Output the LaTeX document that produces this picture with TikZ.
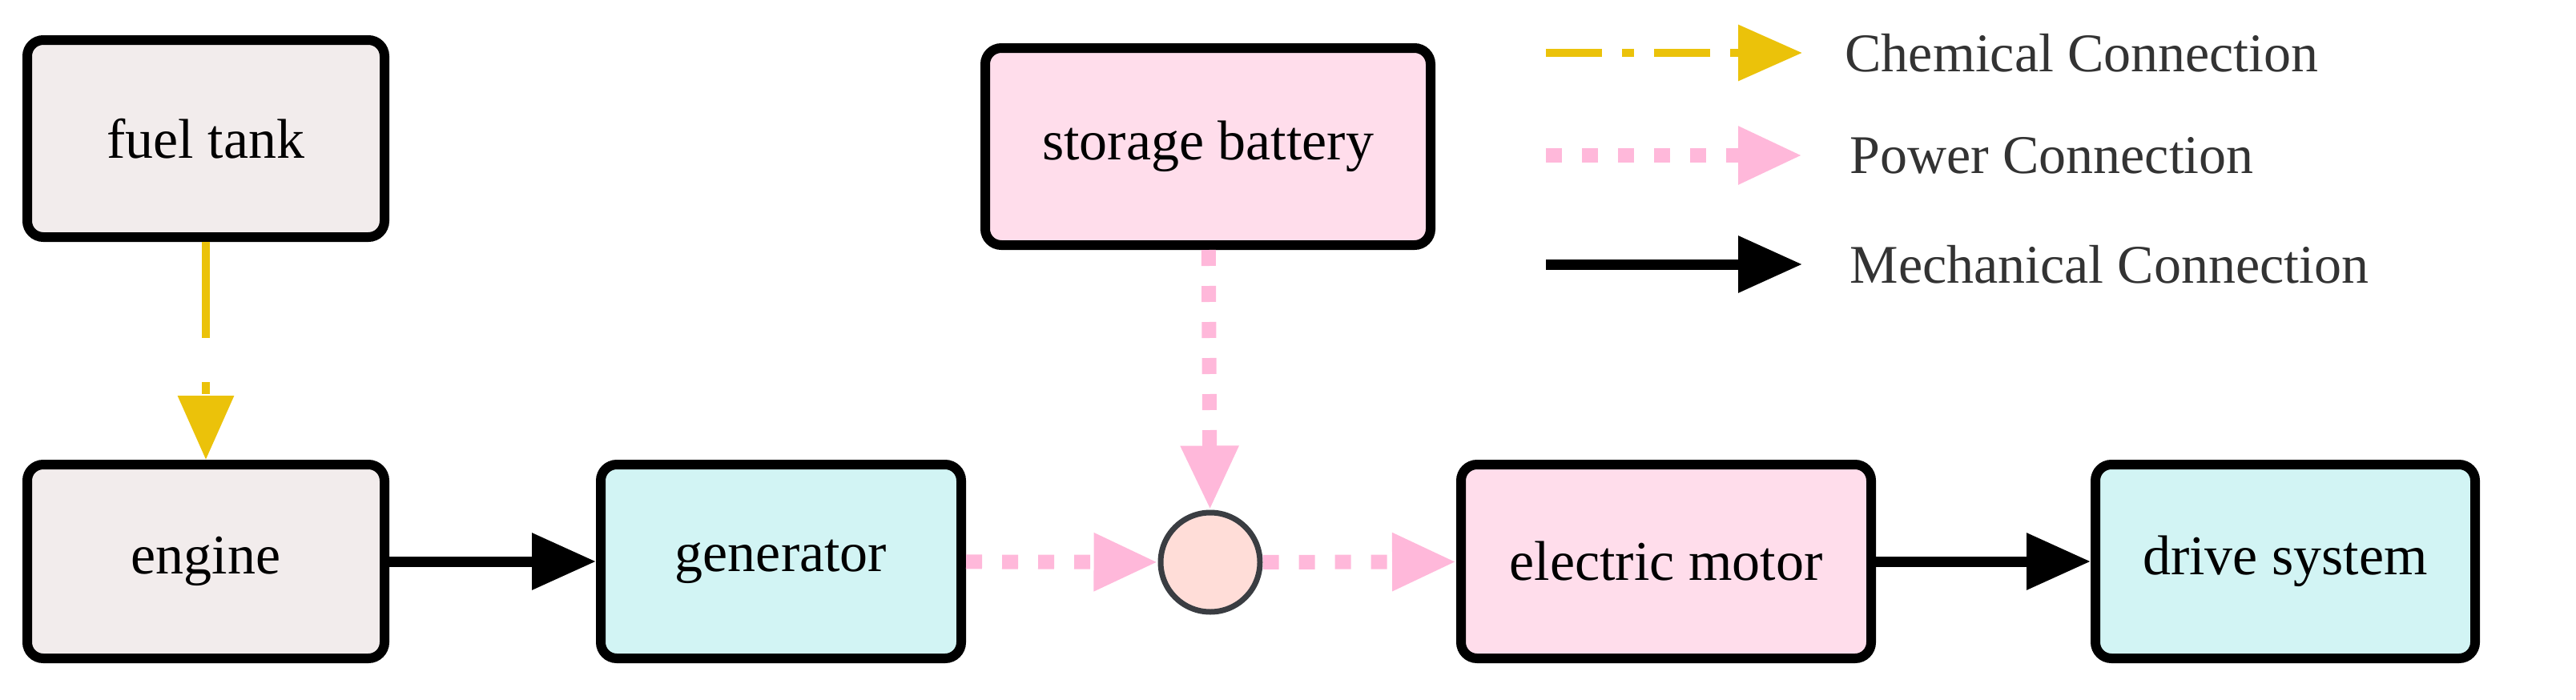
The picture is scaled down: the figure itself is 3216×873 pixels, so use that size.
\documentclass[tikz,border=0pt]{standalone}
\usepackage{fontspec}
\setmainfont{Liberation Serif}
\usetikzlibrary{arrows.meta}
\definecolor{cgray}{HTML}{F2ECEC}
\definecolor{ccyan}{HTML}{D2F4F4}
\definecolor{cpink}{HTML}{FFDDEB}
\definecolor{ccirc}{HTML}{FFDDD8}
\definecolor{cyel}{HTML}{EBC20A}
\definecolor{cpw}{HTML}{FFB8DA}
\definecolor{ctext}{HTML}{333333}
\begin{document}
\begin{tikzpicture}[x=1pt,y=-1pt,
  box/.style={draw=black,line width=12pt,rounded corners=20pt,font=\fontsize{70}{80}\selectfont,inner sep=0pt},
  tip/.style={-{Triangle[length=80pt,width=68pt]}},
  chem/.style={tip,draw=cyel,line width=10pt,dash pattern=on 120pt off 55pt on 15pt off 55pt},
  pow/.style={tip,draw=cpw,line width=18pt,dash pattern=on 20pt off 25pt},
  mech/.style={tip,draw=black,line width=13pt},
  leg/.style={font=\fontsize{68}{80}\selectfont,text=ctext,anchor=west}]
\useasboundingbox (0,0) rectangle (3216,873);
\node[box,fill=cgray,minimum width=446pt,minimum height=246pt] (fuel) at (257,173) {fuel tank};
\node[box,fill=cgray,minimum width=446pt,minimum height=242pt] (eng) at (257,701) {engine};
\node[box,fill=ccyan,minimum width=450pt,minimum height=242pt] (gen) at (975,701) {generator};
\node[box,fill=cpink,minimum width=556pt,minimum height=246pt] (bat) at (1508,183) {storage battery};
\node[box,fill=cpink,minimum width=512pt,minimum height=242pt] (mot) at (2080,701) {electric motor};
\node[box,fill=ccyan,minimum width=474pt,minimum height=242pt] (drv) at (2853,701) {drive system};
\node[circle,draw=black!85!cyan,line width=7pt,fill=ccirc,minimum size=124pt,inner sep=0pt] (c) at (1511,702) {};
\draw[chem] (fuel) -- (eng);
\draw[mech] (eng) -- (gen);
\draw[pow] (gen) -- (c);
\draw[pow] (bat) -- (c);
\draw[pow] (c) -- (mot);
\draw[mech] (mot) -- (drv);
\coordinate (l1a) at (1930,66); \coordinate (l1b) at (2250,66);
\coordinate (l2a) at (1930,194); \coordinate (l2b) at (2250,194);
\coordinate (l3a) at (1930,330); \coordinate (l3b) at (2250,330);
\draw[chem,dash pattern=on 70pt off 25pt on 15pt off 25pt] (l1a) -- (l1b);
\draw[pow] (l2a) -- (l2b);
\draw[mech] (l3a) -- (l3b);
\node[leg] (t1) at (2300,66) {Chemical Connection};
\node[leg] (t2) at (2306,194) {Power Connection};
\node[leg] (t3) at (2306,330) {Mechanical Connection};
\end{tikzpicture}
\end{document}
